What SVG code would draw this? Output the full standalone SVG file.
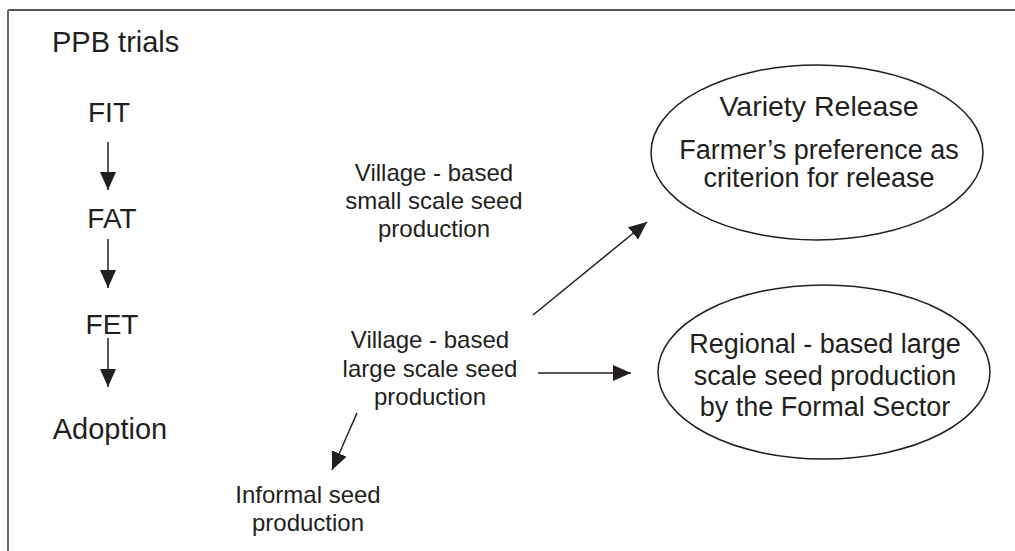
<svg xmlns="http://www.w3.org/2000/svg" width="1015" height="551" viewBox="0 0 1015 551">
<style>
text{font-family:"Liberation Sans",Arial,Helvetica,sans-serif;fill:#231f20}
.big{font-size:28px}
.med{font-size:24px}
.ell{font-size:27px}
.c{text-anchor:middle}
.conn line{stroke:#231f20;stroke-width:1.5;marker-end:url(#ah)}
ellipse{fill:none;stroke:#231f20;stroke-width:1.5}
</style>
<defs>
<marker id="ah" markerUnits="userSpaceOnUse" markerWidth="19" markerHeight="17" refX="18" refY="8" orient="auto">
<path d="M0,0 L18,8 L0,16 z" fill="#231f20"/>
</marker>
</defs>
<rect width="1015" height="551" fill="#fff"/>
<g id="frame">
<line x1="8" y1="10" x2="1015" y2="10" stroke="#231f20" stroke-width="1.5"/>
<line x1="8" y1="10" x2="8" y2="551" stroke="#666" stroke-width="2"/>
</g>
<g id="ppb"><text x="52" y="52" style="font-size:29px">PPB trials</text></g>
<g id="fit"><text class="big c" x="109" y="122">FIT</text></g>
<g id="fat"><text class="big c" x="112" y="228">FAT</text></g>
<g id="fet"><text class="big c" x="112" y="334">FET</text></g>
<g id="adoption"><text class="c" x="110" y="439" style="font-size:29px">Adoption</text></g>
<g id="small-scale">
<text class="med c" x="434" y="181">Village - based</text>
<text class="med c" x="434" y="209">small scale seed</text>
<text class="med c" x="434" y="237">production</text>
</g>
<g id="large-scale">
<text class="med c" x="430" y="348">Village - based</text>
<text class="med c" x="430" y="377">large scale seed</text>
<text class="med c" x="430" y="405">production</text>
</g>
<g id="informal">
<text class="med c" x="308" y="503">Informal seed</text>
<text class="med c" x="308" y="531">production</text>
</g>
<g id="variety-release">
<ellipse cx="817" cy="152.5" rx="166" ry="87.5"/>
<text class="c" x="819" y="116" style="font-size:28.5px">Variety Release</text>
<text class="ell c" x="819" y="159">Farmer’s preference as</text>
<text class="ell c" x="819" y="187">criterion for release</text>
</g>
<g id="regional">
<ellipse cx="824" cy="372" rx="166" ry="87"/>
<text class="ell c" x="825" y="353">Regional - based large</text>
<text class="ell c" x="825" y="385">scale seed production</text>
<text class="ell c" x="825" y="416">by the Formal Sector</text>
</g>
<g id="connectors" class="conn">
<line x1="108" y1="142" x2="108" y2="190"/>
<line x1="108" y1="239" x2="108" y2="288"/>
<line x1="108" y1="338" x2="108" y2="387"/>
<line x1="533" y1="315" x2="647" y2="222"/>
<line x1="538" y1="373" x2="631" y2="373"/>
<line x1="357" y1="413" x2="332" y2="470"/>
</g>
</svg>
